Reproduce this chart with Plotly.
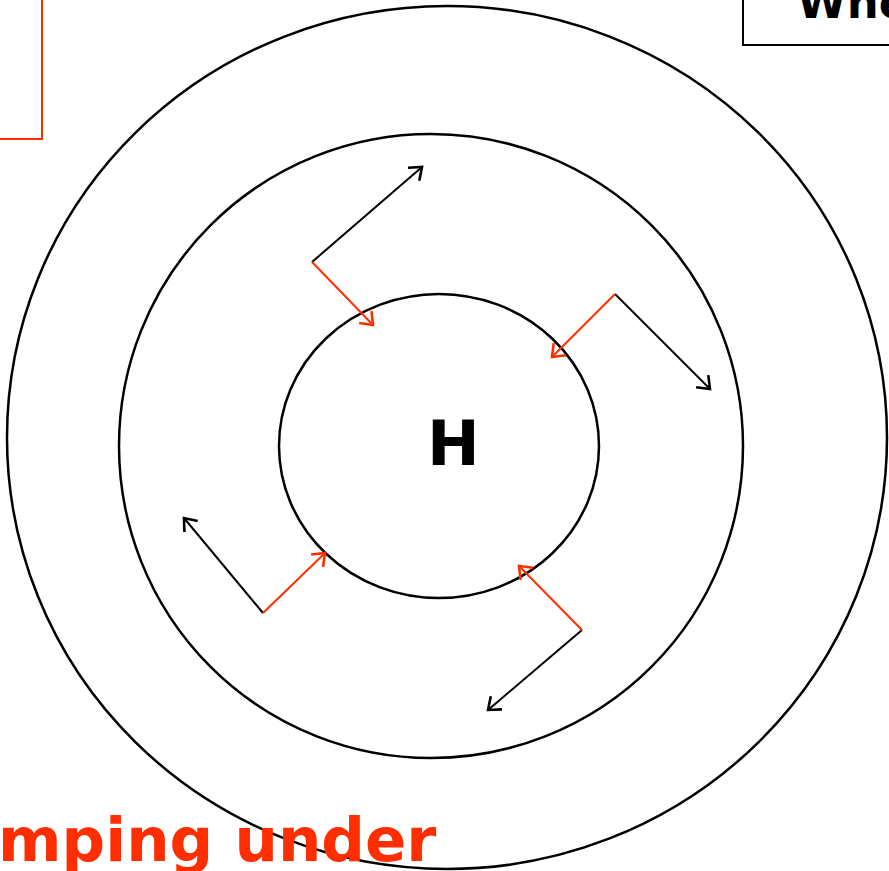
import math
import plotly.graph_objects as go

W, H = 889, 871
RED = "#FF2E00"
BLACK = "#000000"

# Concentric isobar rings (left, top, right, bottom) in pixel space
ring_names = ["outer", "middle", "inner"]
ring_x0 = [7, 119, 279]
ring_y0 = [6, 134, 294]
ring_x1 = [887, 743, 599]
ring_y1 = [869, 758, 598]

# Wind arrows: origin point, black arrow tip (outflow), red arrow tip (pressure gradient)
arrow_origin_x = [312, 615, 263, 582]
arrow_origin_y = [262, 294, 613, 630]
black_tip_x = [422, 710, 184, 488]
black_tip_y = [167, 389, 518, 710]
red_tip_x = [373, 552, 325, 519]
red_tip_y = [325, 357, 553, 566]

center_label = "H"
bottom_label = "mping under"
top_right_label = "When"

fig = go.Figure()


def arrow_path(x0, y0, x1, y1, head=14, ang=38):
    dx, dy = x1 - x0, y1 - y0
    th = math.atan2(dy, dx)
    shaft = ([x0, x1], [y0, y1])
    hx, hy = [], []
    for s in (-1, 1):
        a = th + math.pi + s * math.radians(ang)
        hx.append(x1 + head * math.cos(a))
        hy.append(y1 + head * math.sin(a))
    headpath = ([hx[0], x1, hx[1]], [hy[0], y1, hy[1]])
    return shaft, headpath


for i in range(len(arrow_origin_x)):
    for tx, ty, col in ((black_tip_x, black_tip_y, BLACK), (red_tip_x, red_tip_y, RED)):
        shaft, headpath = arrow_path(arrow_origin_x[i], arrow_origin_y[i], tx[i], ty[i])
        fig.add_trace(go.Scatter(x=shaft[0], y=shaft[1], mode="lines",
                                 line=dict(color=col, width=2),
                                 hoverinfo="skip", showlegend=False))
        fig.add_trace(go.Scatter(x=headpath[0], y=headpath[1], mode="lines",
                                 line=dict(color=col, width=2.6),
                                 hoverinfo="skip", showlegend=False))

shapes = []
for i in range(len(ring_names)):
    shapes.append(dict(type="circle", xref="x", yref="y",
                       x0=ring_x0[i], y0=ring_y0[i], x1=ring_x1[i], y1=ring_y1[i],
                       line=dict(color=BLACK, width=2.5), layer="below"))
shapes.append(dict(type="rect", xref="x", yref="y", x0=-20, y0=-20, x1=42, y1=139,
                   line=dict(color=RED, width=2)))
shapes.append(dict(type="rect", xref="x", yref="y", x0=743, y0=-20, x1=920, y1=45,
                   line=dict(color=BLACK, width=2)))

annotations = [
    dict(x=453, y=443, xref="x", yref="y", text=f"<b>{center_label}</b>", showarrow=False,
         font=dict(family="DejaVu Sans", size=63, color=BLACK),
         xanchor="center", yanchor="middle"),
    dict(x=438, y=862, xref="x", yref="y", text=f"<b>{bottom_label}</b>", showarrow=False,
         font=dict(family="DejaVu Sans", size=61, color=RED),
         xanchor="right", yanchor="bottom", yshift=-15),
    dict(x=795, y=20, xref="x", yref="y", text=f"<b>{top_right_label}</b>", showarrow=False,
         font=dict(family="DejaVu Sans", size=45, color=BLACK),
         xanchor="left", yanchor="bottom", yshift=-11),
]

fig.update_layout(
    width=W, height=H,
    margin=dict(l=0, r=0, t=0, b=0),
    paper_bgcolor="white", plot_bgcolor="white",
    xaxis=dict(range=[0, W], visible=False, fixedrange=True),
    yaxis=dict(range=[H, 0], visible=False, fixedrange=True),
    shapes=shapes, annotations=annotations,
    showlegend=False,
)

fig.write_html("out.html", config={"displayModeBar": False},
               post_script="document.body.style.margin='0px';document.body.style.overflow='hidden';")
